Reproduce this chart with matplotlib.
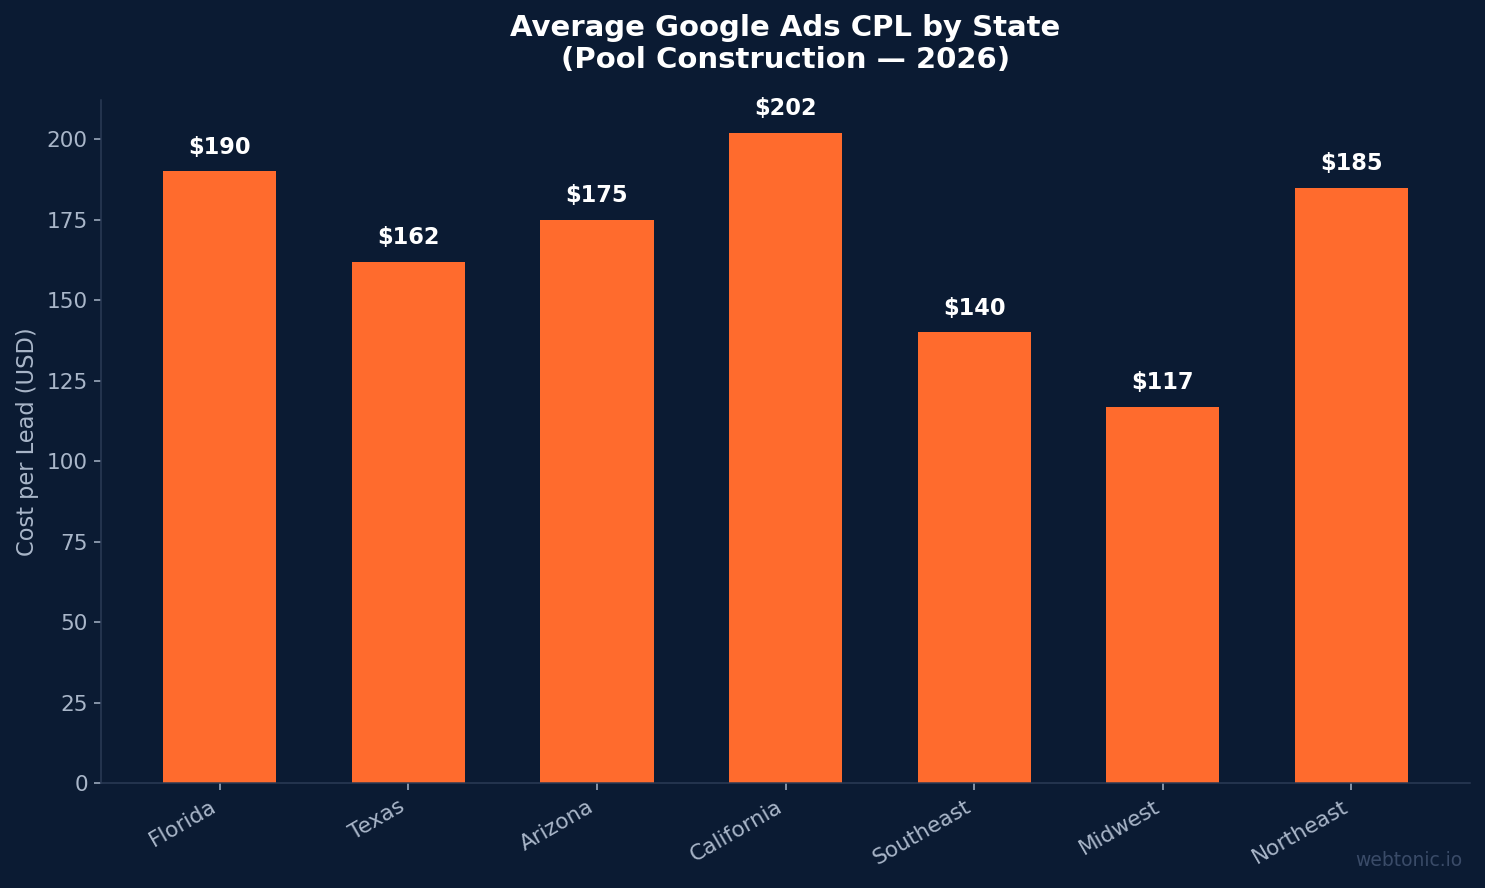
import matplotlib.pyplot as plt

states = ['Florida', 'Texas', 'Arizona', 'California', 'Southeast', 'Midwest', 'Northeast']
cpl = [190, 162, 175, 202, 140, 117, 185]

bg = '#0b1b33'
bar_color = '#ff6b2d'
tick_color = '#a9b6c9'
spine_color = '#2b3b56'

fig, ax = plt.subplots(figsize=(11, 888 / 135), dpi=135)
fig.patch.set_facecolor(bg)
ax.set_facecolor(bg)

bars = ax.bar(states, cpl, color=bar_color, width=0.6)

# value labels above each bar
for b, v in zip(bars, cpl):
    ax.text(b.get_x() + b.get_width() / 2, v + 4, f'${v}',
            ha='center', va='bottom', color='white', fontsize=12, fontweight='bold')

ax.set_title('Average Google Ads CPL by State\n(Pool Construction — 2026)',
             color='white', fontsize=15.5, fontweight='bold', pad=17)
ax.set_ylabel('Cost per Lead (USD)', color=tick_color, fontsize=12)

ax.tick_params(colors=tick_color, labelsize=11.5)
plt.setp(ax.get_xticklabels(), rotation=30, ha='right')

for side in ['top', 'right']:
    ax.spines[side].set_visible(False)
for side in ['left', 'bottom']:
    ax.spines[side].set_color(spine_color)

fig.text(0.985, 0.02, 'webtonic.io', color='#3a4b68', fontsize=10, ha='right', va='bottom')

fig.subplots_adjust(left=0.068, right=0.99, bottom=0.118, top=0.887)
plt.savefig('out.png', facecolor=bg)
